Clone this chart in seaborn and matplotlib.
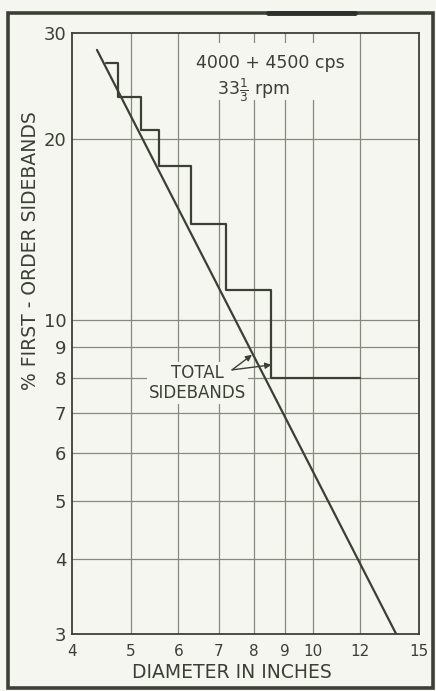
import numpy as np
import matplotlib
matplotlib.use("Agg")
import matplotlib.pyplot as plt
import seaborn as sns
import pandas as pd
from matplotlib.patches import Rectangle
from matplotlib.lines import Line2D

# -----------------------------
# DATA
# -----------------------------
# straight line: total sidebands
total_diam = [4.4, 13.75]
total_pct = [28.1, 3.0]

# staircase: first-order sidebands
step_diam = [4.55, 4.77, 5.2, 5.57, 6.3, 7.2, 8.55, 12.0]
step_pct = [26.7, 23.5, 20.7, 18.0, 14.4, 11.2, 8.0, 8.0]

x_ticks = [4, 5, 6, 7, 8, 9, 10, 12, 15]
x_labels = ["4", "5", "6", "7", "8", "9", "10", "12", "15"]
x_minor = [11, 13, 14]
y_ticks = [3, 4, 5, 6, 7, 8, 9, 10, 20, 30]
y_labels = ["3", "4", "5", "6", "7", "8", "9", "10", "20", "30"]
y_minor = [3.5, 4.5, 5.5, 6.5, 7.5, 8.5, 9.5, 15, 25]

total_df = pd.DataFrame({"diameter": total_diam, "pct": total_pct})
step_df = pd.DataFrame({"diameter": step_diam, "pct": step_pct})

# -----------------------------
# STYLE
# -----------------------------
ink = "#3b4035"
grid_col = "#858a7c"
paper = "#f6f6f1"

sns.set_style("white")
plt.rcParams["font.family"] = ["DejaVu Sans"]
plt.rcParams["text.color"] = ink

fig = plt.figure(figsize=(4.36, 6.91), dpi=100, facecolor=paper)
ax = fig.add_axes([0.165, 0.0825, 0.796, 0.870], facecolor=paper)

ax.set_xscale("log")
ax.set_yscale("log")

# grid
for gx in [5, 6, 7, 8, 9, 10, 12]:
    ax.axvline(gx, color=grid_col, lw=0.9, zorder=1)
for gy in [4, 5, 6, 7, 8, 9, 10, 20]:
    ax.axhline(gy, color=grid_col, lw=0.9, zorder=1)

# -----------------------------
# LINES
# -----------------------------
sns.lineplot(data=total_df, x="diameter", y="pct", ax=ax, color=ink,
             lw=1.6, zorder=3)
sns.lineplot(data=step_df, x="diameter", y="pct", ax=ax, color=ink,
             lw=1.6, drawstyle="steps-post", zorder=3)

ax.set_xlim(4, 15)
ax.set_ylim(3, 30)

ax.set_xticks(x_ticks)
ax.set_xticklabels(x_labels)
ax.set_xticks(x_minor, minor=True)
ax.set_xticklabels([], minor=True)
ax.set_yticks(y_ticks)
ax.set_yticklabels(y_labels)
ax.set_yticks(y_minor, minor=True)
ax.set_yticklabels([], minor=True)

ax.tick_params(axis="x", which="major", length=0, pad=7, labelsize=11,
               labelcolor=ink)
ax.tick_params(axis="y", which="major", length=0, pad=4, labelsize=13,
               labelcolor=ink)
ax.tick_params(which="minor", direction="in", length=8, width=0.9,
               color=grid_col)

for s in ax.spines.values():
    s.set_color(ink)
    s.set_linewidth(1.3)

ax.set_xlabel("")
ax.set_ylabel("")

# axis titles
fig.text(30 / 436, 1 - 251 / 691, "% FIRST - ORDER SIDEBANDS", rotation=90,
         ha="center", va="center", fontsize=13.5, color=ink)
fig.text(232 / 436, 1 - 672 / 691, "DIAMETER IN INCHES",
         ha="center", va="center", fontsize=13.5, color=ink)

# -----------------------------
# ANNOTATIONS
# -----------------------------
# blank patch behind the speed / frequency note
ax.add_patch(Rectangle((0.34, 0.8885), 0.447, 0.0945, transform=ax.transAxes,
                       facecolor=paper, edgecolor="none", zorder=1.5))
ax.text(0.5706, 0.950, "4000 + 4500 cps", transform=ax.transAxes,
        ha="center", va="center", fontsize=12.5, color=ink, zorder=2)
ax.text(0.5245, 0.905, "33$\\frac{1}{3}$ rpm", transform=ax.transAxes,
        ha="center", va="center", fontsize=12.5, color=ink, zorder=2)

ax.text(6.45, 7.85, "TOTAL\nSIDEBANDS", ha="center", va="center",
        fontsize=12, color=ink, linespacing=1.15,
        bbox=dict(facecolor=paper, edgecolor="none", pad=1.5), zorder=2)
arrow = dict(arrowstyle="-|>", color=ink, lw=1.0, mutation_scale=9,
             shrinkA=0, shrinkB=0)
ax.annotate("", xy=(7.94, 8.74), xytext=(7.36, 8.25), arrowprops=arrow,
            zorder=4)
ax.annotate("", xy=(8.55, 8.41), xytext=(7.36, 8.25), arrowprops=arrow,
            zorder=4)

# -----------------------------
# PHOTO BORDER
# -----------------------------
fig.patches.append(Rectangle((8 / 436, 3 / 691), 425 / 436, 675 / 691,
                             transform=fig.transFigure, fill=False,
                             ec=ink, lw=2.6))
fig.lines.append(Line2D([268 / 436, 355 / 436], [1 - 13 / 691, 1 - 13 / 691],
                        transform=fig.transFigure, color="#2c302a", lw=3.5))

fig.savefig("out.png", dpi=100, facecolor=paper)
